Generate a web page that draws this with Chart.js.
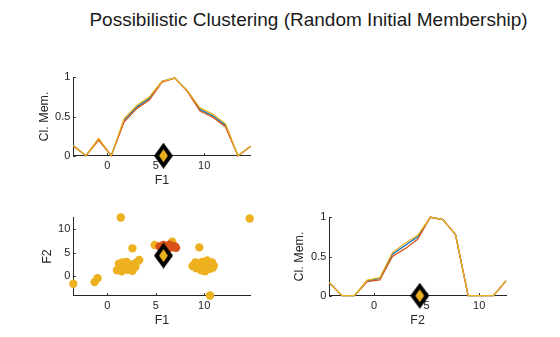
<!DOCTYPE html>
<html lang="en">
<head>
    <meta charset="UTF-8">
    <title>Possibilistic Clustering</title>
    <script src="https://cdn.jsdelivr.net/npm/chart.js"></script>
    <style>
        body {
            margin: 0;
            background: #ffffff;
            font-family: "Liberation Sans", Arial, sans-serif;
        }
        .page {
            position: relative;
            width: 560px;
            height: 337px;
        }
        .page canvas {
            position: absolute;
            left: 0;
            top: 0;
        }
        .title {
            position: absolute;
            left: 0;
            top: 9px;
            width: 617px;
            text-align: center;
            font-size: 19px;
            line-height: 22px;
            color: #1a1a1a;
        }
    </style>
</head>
<body>
    <div class="page">
        <div class="title">Possibilistic Clustering (Random Initial Membership)</div>
        <canvas id="memF1" width="560" height="337"></canvas>
        <canvas id="scatter" width="560" height="337"></canvas>
        <canvas id="memF2" width="560" height="337"></canvas>
    </div>

    <script>
        // grid points the memberships were evaluated at
        const f1Grid = [-3.5, -2.19, -0.89, 0.42, 1.73, 3.04, 4.34, 5.65, 6.96, 8.26, 9.57, 10.88, 12.19, 13.49, 14.8];
        const f2Grid = [-4.25, -3.05, -1.85, -0.65, 0.55, 1.75, 2.95, 4.15, 5.35, 6.55, 7.75, 8.95, 10.15, 11.35, 12.55];

        // cluster membership along F1 (three runs)
        const memF1Blue   = [0.13, 0, 0.21, 0, 0.45, 0.62, 0.73, 0.95, 0.99, 0.83, 0.59, 0.51, 0.39, 0, 0.12];
        const memF1Orange = [0.12, 0, 0.20, 0, 0.43, 0.60, 0.71, 0.94, 0.99, 0.82, 0.57, 0.49, 0.37, 0, 0.12];
        const memF1Yellow = [0.13, 0, 0.22, 0, 0.47, 0.64, 0.75, 0.95, 0.99, 0.83, 0.61, 0.53, 0.41, 0, 0.12];

        // cluster membership along F2
        const memF2Blue   = [0.17, 0, 0, 0.19, 0.22, 0.53, 0.64, 0.75, 1.0, 0.97, 0.78, 0, 0, 0, 0.19];
        const memF2Orange = [0.16, 0, 0, 0.18, 0.20, 0.50, 0.60, 0.72, 1.0, 0.97, 0.78, 0, 0, 0, 0.19];
        const memF2Yellow = [0.17, 0, 0, 0.20, 0.23, 0.55, 0.67, 0.77, 1.0, 0.97, 0.78, 0, 0, 0, 0.19];

        // data points (F1, F2)
        const yellowF1 = [1.4, 14.7, -3.5, -1.3, -1.0, 10.6, 2.6, 9.5, 4.9, 6.7,
                          1.0, 1.2, 1.4, 1.6, 1.8, 2.0, 2.1, 2.3, 2.5, 2.6, 2.7, 2.9, 3.0, 3.3, 1.5, 2.2,
                          8.8, 9.1, 9.2, 9.5, 9.7, 9.8, 10.0, 10.1, 10.3, 10.4, 10.6, 10.8, 11.0, 10.9, 9.4, 10.2];
        const yellowF2 = [12.5, 12.3, -1.7, -1.3, -0.5, -4.2, 5.9, 6.1, 6.6, 7.3,
                          1.2, 2.6, 1.5, 2.9, 2.2, 3.0, 1.3, 2.4, 1.6, 1.1, 2.5, 1.9, 2.8, 3.4, 1.0, 1.8,
                          2.1, 2.9, 1.6, 2.4, 1.2, 3.0, 2.0, 1.0, 3.3, 2.5, 1.5, 2.9, 2.2, 1.8, 1.9, 1.4];
        const orangeF1 = [5.4, 5.8, 6.1, 6.4, 6.7, 7.0, 7.1, 6.3, 5.9, 6.6];
        const orangeF2 = [6.3, 6.6, 6.2, 6.7, 6.1, 6.3, 6.0, 5.9, 5.9, 6.5];

        // cluster centre
        const centreF1 = 5.8;
        const centreF2 = 4.35;

        // axis limits and ticks
        const f1Range = [-3.5, 14.8];
        const f2Range = [-4.25, 12.55];
        const memRange = [0, 1];
        const f1Ticks = [0, 5, 10];
        const f2Ticks = [0, 5, 10];
        const memTicks = [0, 0.5, 1];

        const BLUE = '#0072BD', ORANGE = '#D95319', YELLOW = '#EDB120';
        const AXIS = '#262626';
        const FONT = '"Liberation Sans", Arial, sans-serif';

        // diamond marker for the cluster centre
        function makeDiamond() {
            const c = document.createElement('canvas');
            const w = 19, h = 26;
            c.width = w; c.height = h;
            const g = c.getContext('2d');
            g.fillStyle = '#000000';
            g.beginPath();
            g.moveTo(w / 2, 0); g.lineTo(w, h / 2); g.lineTo(w / 2, h); g.lineTo(0, h / 2);
            g.closePath(); g.fill();
            const iw = 4.4, ih = 6.4;
            g.fillStyle = YELLOW;
            g.beginPath();
            g.moveTo(w / 2, h / 2 - ih); g.lineTo(w / 2 + iw, h / 2); g.lineTo(w / 2, h / 2 + ih); g.lineTo(w / 2 - iw, h / 2);
            g.closePath(); g.fill();
            return c;
        }
        const diamond = makeDiamond();

        function pairs(xs, ys) {
            return xs.map((x, i) => ({ x: x, y: ys[i] }));
        }

        // small inward tick marks, like the original
        const inwardTicks = {
            id: 'inwardTicks',
            beforeDatasetsDraw(chart) {
                const ctx = chart.ctx, a = chart.chartArea;
                ctx.save();
                ctx.strokeStyle = AXIS;
                ctx.lineWidth = 1;
                chart.scales.x.ticks.forEach(t => {
                    const px = Math.round(chart.scales.x.getPixelForValue(t.value)) + 0.5;
                    ctx.beginPath(); ctx.moveTo(px, a.bottom); ctx.lineTo(px, a.bottom - 2.5); ctx.stroke();
                });
                chart.scales.y.ticks.forEach(t => {
                    const py = Math.round(chart.scales.y.getPixelForValue(t.value)) + 0.5;
                    ctx.beginPath(); ctx.moveTo(a.left, py); ctx.lineTo(a.left + 2.5, py); ctx.stroke();
                });
                ctx.restore();
            }
        };

        function xAxis(range, ticks, title) {
            return {
                type: 'linear',
                min: range[0], max: range[1],
                afterBuildTicks: s => { s.ticks = ticks.map(v => ({ value: v })); },
                afterFit: s => { s.height = 40; },
                grid: { display: false, drawTicks: false },
                border: { display: true, color: AXIS, width: 1 },
                ticks: { color: AXIS, padding: 4, maxRotation: 0, font: { family: FONT, size: 11 }, callback: v => String(v) },
                title: { display: true, text: title, color: AXIS, padding: { top: 0, bottom: 7.5 }, font: { family: FONT, size: 12.5 } }
            };
        }

        function yAxis(range, ticks, title, width, titlePad) {
            return {
                type: 'linear',
                min: range[0], max: range[1],
                afterBuildTicks: s => { s.ticks = ticks.map(v => ({ value: v })); },
                afterFit: s => { s.width = width; },
                grid: { display: false, drawTicks: false },
                border: { display: true, color: AXIS, width: 1 },
                ticks: { color: AXIS, padding: 3, font: { family: FONT, size: 11 }, callback: v => String(v) },
                title: { display: true, text: title, color: AXIS, padding: { top: titlePad, bottom: 0 }, font: { family: FONT, size: 12.5 } }
            };
        }

        function baseOptions(padding, scales) {
            return {
                responsive: false,
                animation: false,
                devicePixelRatio: 1,
                events: [],
                layout: { padding: padding },
                plugins: { legend: { display: false }, tooltip: { enabled: false } },
                scales: scales
            };
        }

        // higher order is drawn first, i.e. further back
        function memLine(grid, vals, color, order) {
            return {
                data: pairs(grid, vals),
                showLine: true,
                borderColor: color,
                borderWidth: 1.3,
                pointRadius: 0,
                clip: false,
                order: order
            };
        }

        function centreMarker(x, y) {
            return {
                data: [{ x: x, y: y }],
                pointStyle: diamond,
                pointRadius: 10,
                clip: false,
                order: 0
            };
        }

        // top left: membership along F1
        new Chart(document.getElementById('memF1'), {
            type: 'scatter',
            data: {
                datasets: [
                    memLine(f1Grid, memF1Blue, BLUE, 3),
                    memLine(f1Grid, memF1Orange, ORANGE, 2),
                    memLine(f1Grid, memF1Yellow, YELLOW, 1),
                    centreMarker(centreF1, 0)
                ]
            },
            options: baseOptions({ left: 20, right: 309.3, top: 77.3, bottom: 141.3 }, {
                x: xAxis(f1Range, f1Ticks, 'F1'),
                y: yAxis(memRange, memTicks, 'Cl. Mem.', 53.3, 17.5)
            }),
            plugins: [inwardTicks]
        });

        // bottom left: F1 vs F2 scatter
        new Chart(document.getElementById('scatter'), {
            type: 'scatter',
            data: {
                datasets: [
                    { data: pairs(yellowF1, yellowF2), backgroundColor: YELLOW, borderWidth: 0, pointRadius: 4.2, clip: false, order: 2 },
                    { data: pairs(orangeF1, orangeF2), backgroundColor: ORANGE, borderWidth: 0, pointRadius: 4.2, clip: false, order: 1 },
                    centreMarker(centreF1, centreF2)
                ]
            },
            options: baseOptions({ left: 20, right: 309.3, top: 217.3, bottom: 1.3 }, {
                x: xAxis(f1Range, f1Ticks, 'F1'),
                y: yAxis(f2Range, f2Ticks, 'F2', 53.3, 20)
            }),
            plugins: [inwardTicks]
        });

        // bottom right: membership along F2
        new Chart(document.getElementById('memF2'), {
            type: 'scatter',
            data: {
                datasets: [
                    memLine(f2Grid, memF2Blue, BLUE, 3),
                    memLine(f2Grid, memF2Orange, ORANGE, 2),
                    memLine(f2Grid, memF2Yellow, YELLOW, 1),
                    centreMarker(centreF2, 0)
                ]
            },
            options: baseOptions({ left: 280, right: 54, top: 217.3, bottom: 1.3 }, {
                x: xAxis(f2Range, f2Ticks, 'F2'),
                y: yAxis(memRange, memTicks, 'Cl. Mem.', 49.3, 12.5)
            }),
            plugins: [inwardTicks]
        });
    </script>
</body>
</html>
